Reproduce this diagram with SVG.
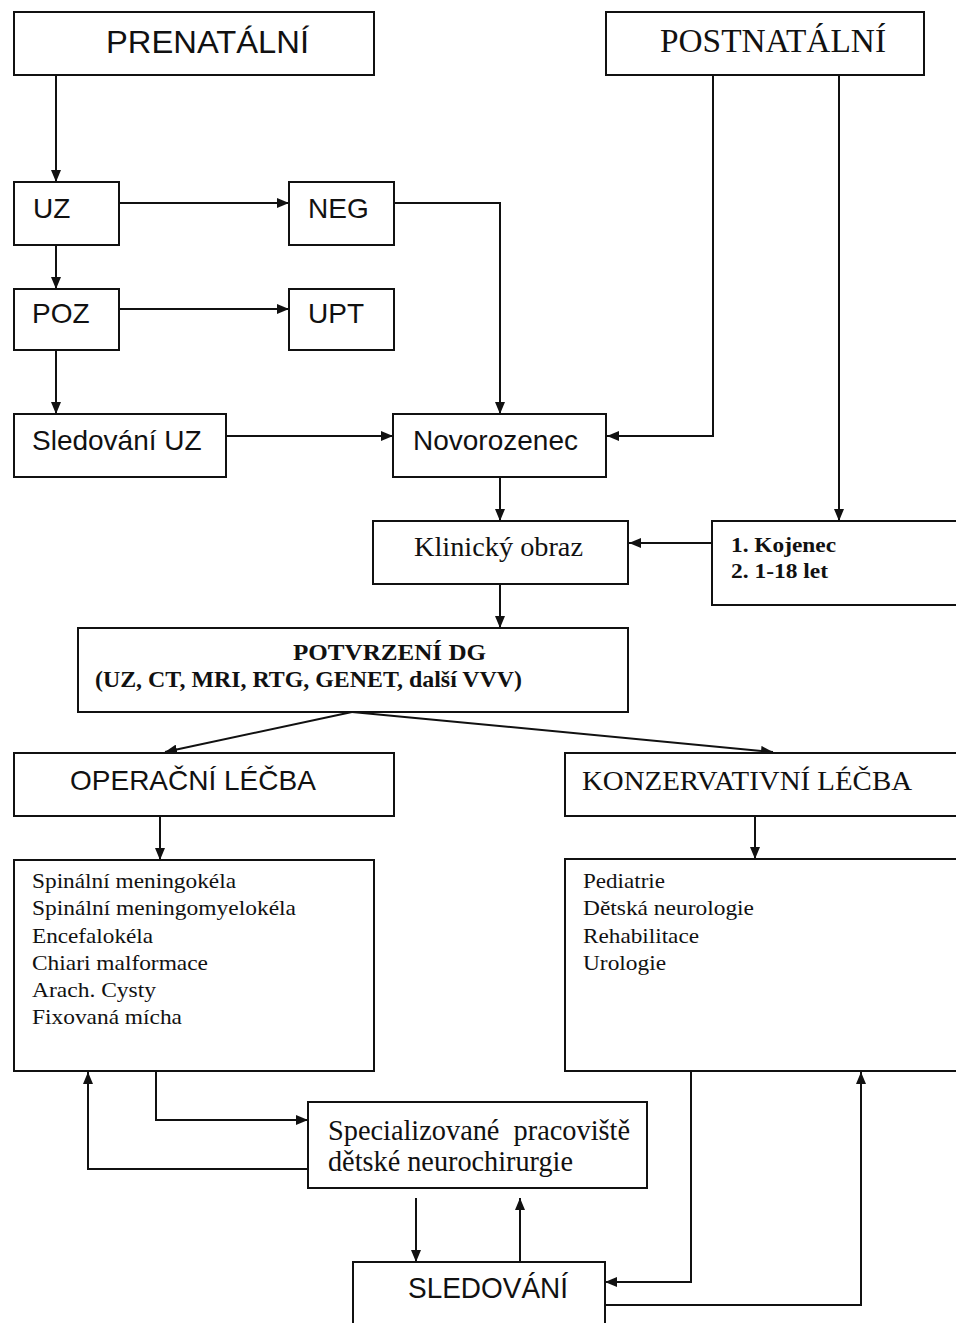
<svg xmlns="http://www.w3.org/2000/svg" width="956" height="1323" viewBox="0 0 956 1323">
<style>
.box{fill:#fff;stroke:#111;stroke-width:2}
.sans{font-family:"Liberation Sans",Arial,sans-serif;fill:#111}
.serif{font-family:"Liberation Serif","Times New Roman",serif;fill:#111}
.b{font-weight:bold}
.s28{font-size:28px}
.list{font-size:21px}
.con{fill:none;stroke:#111;stroke-width:2}
</style>
<defs>
<marker id="ah" markerUnits="userSpaceOnUse" markerWidth="12" markerHeight="10" refX="12" refY="5" orient="auto">
<path d="M0,0 L12,5 L0,10 z" fill="#111"/>
</marker>
</defs>
<rect width="956" height="1323" fill="#fff"/>
<g id="connectors" class="con" marker-end="url(#ah)">
<path d="M56,75 V182"/>
<path d="M119,203 H289"/>
<path d="M394,203 H500 V414"/>
<path d="M56,245 V289"/>
<path d="M119,309 H289"/>
<path d="M56,350 V414"/>
<path d="M226,436 H393"/>
<path d="M713,75 V436 H607"/>
<path d="M839,75 V521"/>
<path d="M500,477 V521"/>
<path d="M712,543 H629"/>
<path d="M500,584 V628"/>
<path d="M352,712 L165,752"/>
<path d="M352,712 L773,752"/>
<path d="M160,816 V860"/>
<path d="M755,816 V859"/>
<path d="M156,1071 V1120 H308"/>
<path d="M308,1169 H88 V1072"/>
<path d="M416,1198 V1262"/>
<path d="M520,1262 V1198"/>
<path d="M691,1071 V1282 H605"/>
<path d="M605,1305 H861 V1072"/>
</g>
<g id="prenatalni"><rect class="box" x="14" y="12" width="360" height="63"/><text class="sans" x="106" y="53" font-size="32" textLength="203" lengthAdjust="spacingAndGlyphs">PRENATÁLNÍ</text></g>
<g id="postnatalni"><rect class="box" x="606" y="12" width="318" height="63"/><text class="serif" x="660" y="52" font-size="34" textLength="226" lengthAdjust="spacingAndGlyphs">POSTNATÁLNÍ</text></g>
<g id="uz"><rect class="box" x="14" y="182" width="105" height="63"/><text class="sans s28" x="33" y="218">UZ</text></g>
<g id="neg"><rect class="box" x="289" y="182" width="105" height="63"/><text class="sans s28" x="308" y="218">NEG</text></g>
<g id="poz"><rect class="box" x="14" y="289" width="105" height="61"/><text class="sans s28" x="32" y="323">POZ</text></g>
<g id="upt"><rect class="box" x="289" y="289" width="105" height="61"/><text class="sans s28" x="308" y="323">UPT</text></g>
<g id="sledovani-uz"><rect class="box" x="14" y="414" width="212" height="63"/><text class="sans s28" x="32" y="450">Sledování UZ</text></g>
<g id="novorozenec"><rect class="box" x="393" y="414" width="213" height="63"/><text class="sans s28" x="413" y="450">Novorozenec</text></g>
<g id="klinicky-obraz"><rect class="box" x="373" y="521" width="255" height="63"/><text class="serif s28" x="414" y="556" textLength="169" lengthAdjust="spacingAndGlyphs">Klinický obraz</text></g>
<g id="kojenec"><rect class="box" x="712" y="521" width="260" height="84"/><text class="serif b" x="731" y="552" font-size="21" textLength="105" lengthAdjust="spacingAndGlyphs">1. Kojenec</text><text class="serif b" x="731" y="578" font-size="21" textLength="97" lengthAdjust="spacingAndGlyphs">2. 1-18 let</text></g>
<g id="potvrzeni-dg"><rect class="box" x="78" y="628" width="550" height="84"/><text class="serif b" x="293" y="660" font-size="24" textLength="193" lengthAdjust="spacingAndGlyphs">POTVRZENÍ DG</text><text class="serif b" x="95" y="687" font-size="24" textLength="427" lengthAdjust="spacingAndGlyphs">(UZ, CT, MRI, RTG, GENET, další VVV)</text></g>
<g id="operacni-lecba"><rect class="box" x="14" y="753" width="380" height="63"/><text class="sans s28" x="70" y="790">OPERAČNÍ LÉČBA</text></g>
<g id="konzervativni-lecba"><rect class="box" x="565" y="753" width="400" height="63"/><text class="serif s28" x="582" y="790" textLength="330" lengthAdjust="spacingAndGlyphs">KONZERVATIVNÍ LÉČBA</text></g>
<g id="operacni-seznam"><rect class="box" x="14" y="860" width="360" height="211"/>
<text class="serif list" x="32" y="888" textLength="204" lengthAdjust="spacingAndGlyphs">Spinální meningokéla</text>
<text class="serif list" x="32" y="915" textLength="264" lengthAdjust="spacingAndGlyphs">Spinální meningomyelokéla</text>
<text class="serif list" x="32" y="943" textLength="121" lengthAdjust="spacingAndGlyphs">Encefalokéla</text>
<text class="serif list" x="32" y="970" textLength="176" lengthAdjust="spacingAndGlyphs">Chiari malformace</text>
<text class="serif list" x="32" y="997" textLength="124" lengthAdjust="spacingAndGlyphs">Arach. Cysty</text>
<text class="serif list" x="32" y="1024" textLength="150" lengthAdjust="spacingAndGlyphs">Fixovaná mícha</text>
</g>
<g id="konzervativni-seznam"><rect class="box" x="565" y="859" width="400" height="212"/>
<text class="serif list" x="583" y="888" textLength="82" lengthAdjust="spacingAndGlyphs">Pediatrie</text>
<text class="serif list" x="583" y="915" textLength="171" lengthAdjust="spacingAndGlyphs">Dětská neurologie</text>
<text class="serif list" x="583" y="943" textLength="116" lengthAdjust="spacingAndGlyphs">Rehabilitace</text>
<text class="serif list" x="583" y="970" textLength="83" lengthAdjust="spacingAndGlyphs">Urologie</text>
</g>
<g id="specializovane-pracoviste"><rect class="box" x="308" y="1102" width="339" height="86"/><text class="serif" x="328" y="1140" font-size="30" textLength="302" lengthAdjust="spacingAndGlyphs" xml:space="preserve">Specializované  pracoviště</text><text class="serif" x="328" y="1171" font-size="30" textLength="245" lengthAdjust="spacingAndGlyphs">dětské neurochirurgie</text></g>
<g id="sledovani"><rect class="box" x="353" y="1262" width="252" height="70"/><text class="sans" x="408" y="1298" font-size="30" textLength="160" lengthAdjust="spacingAndGlyphs">SLEDOVÁNÍ</text></g>
</svg>
